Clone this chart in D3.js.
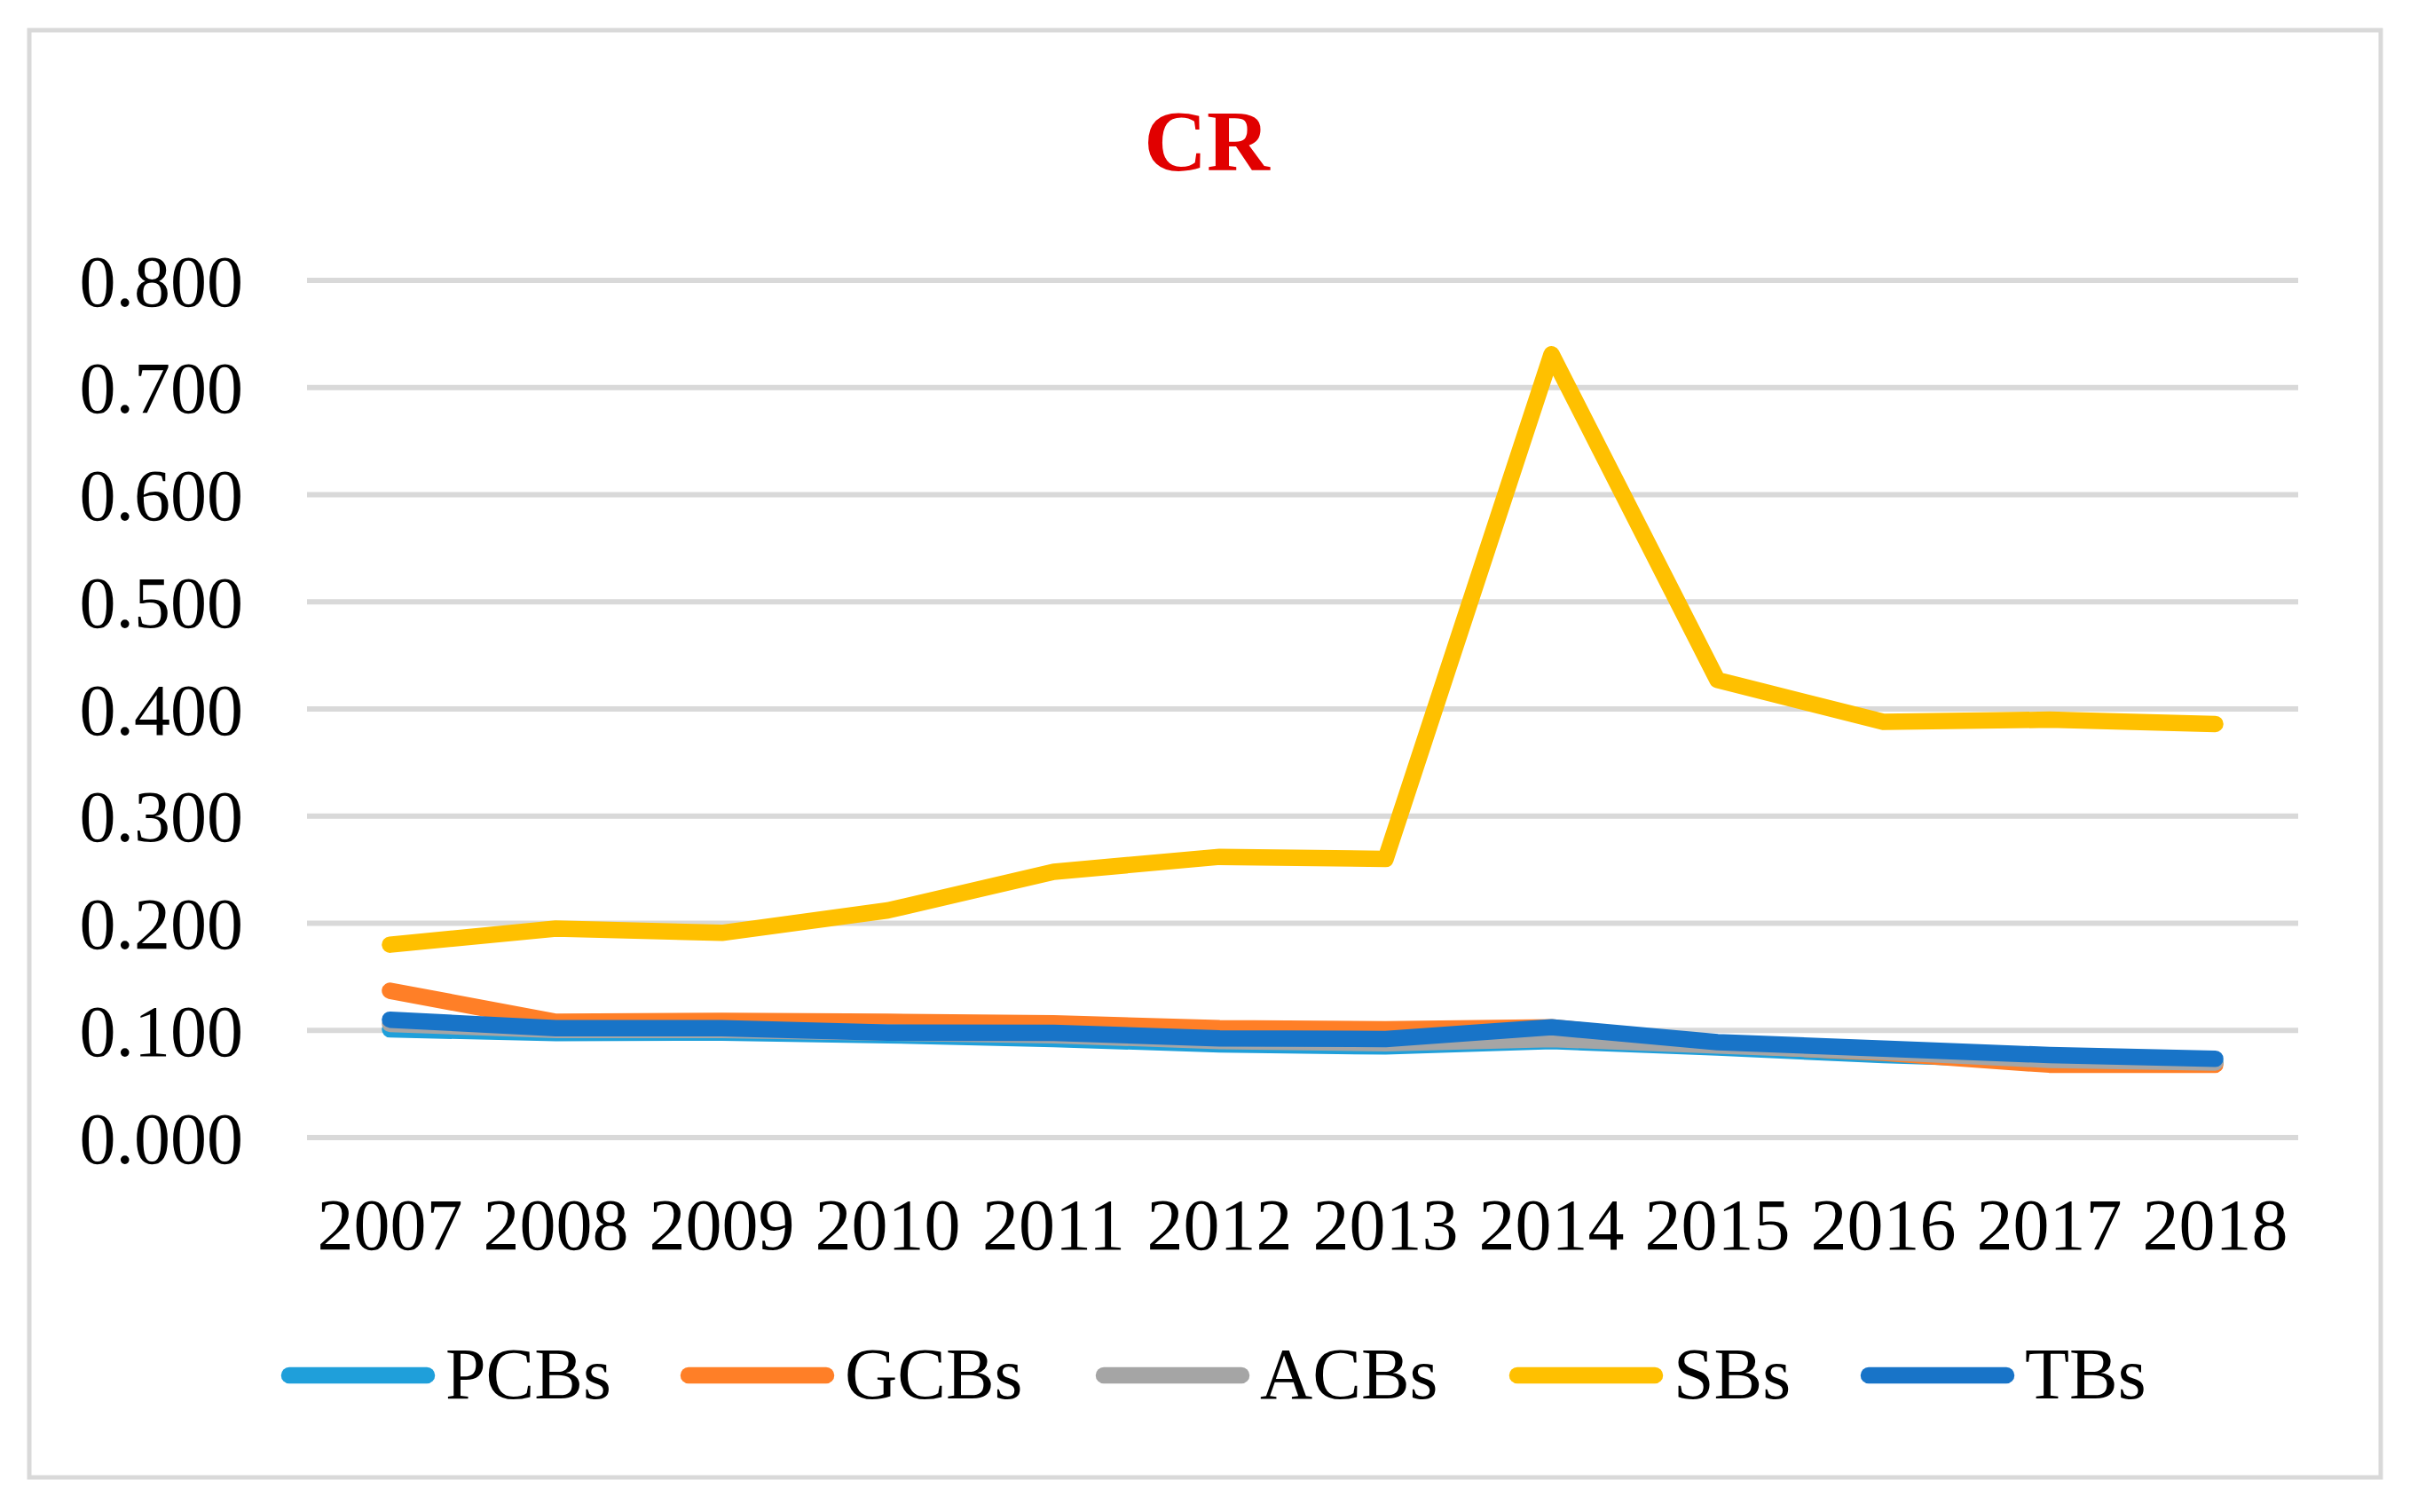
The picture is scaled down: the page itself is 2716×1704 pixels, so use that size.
<!DOCTYPE html>
<html>
<head>
<meta charset="utf-8">
<script src="https://cdn.jsdelivr.net/npm/d3@7"></script>
<style>
  body { margin: 0; background: #fff; }
  text { font-family: "Liberation Serif", "Times New Roman", serif; }
</style>
</head>
<body>
<svg width="2716" height="1704"></svg>
<script>
// data
const years = ["2007","2008","2009","2010","2011","2012","2013","2014","2015","2016","2017","2018"];
const seriesNames = ["PCBs", "GCBs", "ACBs", "SBs", "TBs"];
const pcbs = [0.101, 0.0975, 0.098, 0.0955, 0.092, 0.087, 0.085, 0.090, 0.084, 0.077, 0.072, 0.070];
const gcbs = [0.137, 0.108, 0.109, 0.108, 0.1066, 0.102, 0.101, 0.103, 0.087, 0.079, 0.068, 0.068];
const acbs = [0.106, 0.1005, 0.1005, 0.098, 0.0955, 0.090, 0.088, 0.092, 0.086, 0.080, 0.0725, 0.070];
const sbs = [0.180, 0.195, 0.191, 0.212, 0.248, 0.262, 0.260, 0.731, 0.427, 0.388, 0.390, 0.386];
const tbs = [0.110, 0.102, 0.102, 0.098, 0.0977, 0.0925, 0.092, 0.103, 0.089, 0.083, 0.077, 0.0735];
const yTicks = [0, 0.1, 0.2, 0.3, 0.4, 0.5, 0.6, 0.7, 0.8];

const colors = ["#1f9fda", "#ff7f27", "#a5a5a5", "#ffc000", "#1874c8"];
const series = [pcbs, gcbs, acbs, sbs, tbs];

const svg = d3.select("svg");

// outer frame
svg.append("rect")
    .attr("x", 33).attr("y", 34)
    .attr("width", 2650).attr("height", 1631)
    .attr("fill", "#fff")
    .attr("stroke", "#d9d9d9")
    .attr("stroke-width", 5);

const x = d3.scaleBand().domain(years).range([346, 2590]);
const y = d3.scaleLinear().domain([0, 0.8]).range([1282, 316]);
const cx = d => x(d) + x.bandwidth() / 2;

// gridlines
svg.append("g").selectAll("line")
    .data(yTicks)
    .enter().append("line")
    .attr("x1", 346).attr("x2", 2590)
    .attr("y1", d => y(d)).attr("y2", d => y(d))
    .attr("stroke", "#d9d9d9")
    .attr("stroke-width", 6);

// y axis labels
svg.append("g").selectAll("text")
    .data(yTicks)
    .enter().append("text")
    .attr("x", 274)
    .attr("y", d => y(d))
    .attr("dy", "0.35em")
    .attr("text-anchor", "end")
    .attr("font-size", 82)
    .attr("fill", "#000")
    .text(d => d3.format(".3f")(d));

// x axis labels
svg.append("g").selectAll("text")
    .data(years)
    .enter().append("text")
    .attr("x", d => cx(d))
    .attr("y", 1408)
    .attr("text-anchor", "middle")
    .attr("font-size", 82)
    .attr("fill", "#000")
    .text(d => d);

// lines
const line = d3.line()
    .x((d, i) => cx(years[i]))
    .y(d => y(d));

svg.append("g").selectAll("path")
    .data(series)
    .enter().append("path")
    .attr("d", d => line(d))
    .attr("fill", "none")
    .attr("stroke", (d, i) => colors[i])
    .attr("stroke-width", 18.5)
    .attr("stroke-linejoin", "round")
    .attr("stroke-linecap", "round");

// title
svg.append("text")
    .attr("x", 1360)
    .attr("y", 192)
    .attr("text-anchor", "middle")
    .attr("font-size", 98)
    .attr("font-weight", "bold")
    .attr("fill", "#e10000")
    .text("CR");

// legend
const legendX = [317, 767, 1235, 1701, 2097];
const legend = svg.append("g").selectAll("g")
    .data(seriesNames)
    .enter().append("g")
    .attr("transform", (d, i) => `translate(${legendX[i]},1550)`);

legend.append("line")
    .attr("x1", 9).attr("x2", 164)
    .attr("y1", 0).attr("y2", 0)
    .attr("stroke", (d, i) => colors[i])
    .attr("stroke-width", 18.5)
    .attr("stroke-linecap", "round");

legend.append("text")
    .attr("x", 185)
    .attr("y", 26)
    .attr("font-size", 82)
    .attr("fill", "#000")
    .text(d => d);
</script>
</body>
</html>
